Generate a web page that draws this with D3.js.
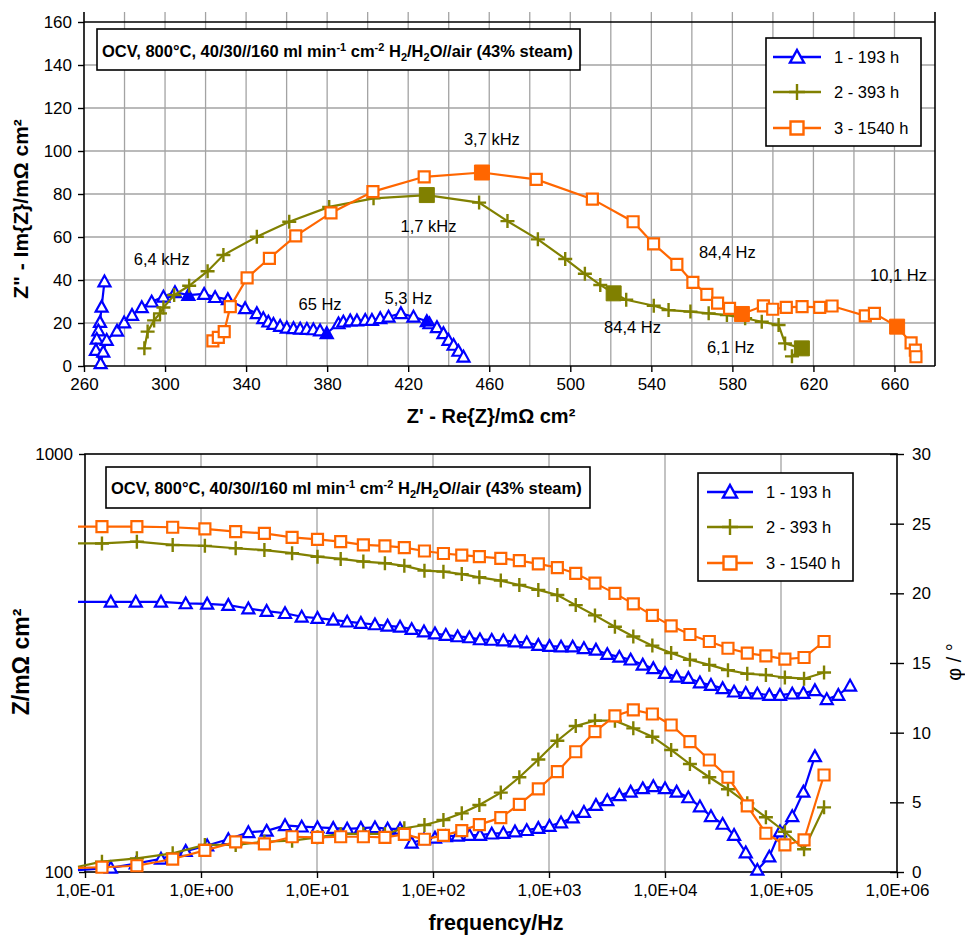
<!DOCTYPE html>
<html>
<head>
<meta charset="utf-8">
<script src="https://cdn.jsdelivr.net/npm/d3@7/dist/d3.min.js"></script>
<style>
  body { margin: 0; background: #fff; }
  svg { font-family: "Liberation Sans", Arial, Helvetica, sans-serif; }
</style>
</head>
<body>
<svg id="chart" width="965" height="935"></svg>
<script>
// series names, in legend order
const seriesNames = ["1 - 193 h", "2 - 393 h", "3 - 1540 h"];

// Nyquist data, [Z' , Z''] in mOhm cm2, high -> low frequency
const nyq1 = [[270.1,39.3],[268.7,27.5],[267.9,20.4],[267.1,16.5],[266.3,12.6],[265.9,7.4],[268.2,1.2],[269.5,6.6],
  [271.2,12.1],[276.3,16.4],[279.8,20.2],[283.7,23.7],[288.5,27.3],[293.4,29.9],[299.2,32.2],[304.9,34.3],
  [311.5,33.0],[319.3,33.5],[324.7,32.0],[331.0,31.0],[339.5,26.8],[345.3,24.5],[348.5,22.2],[351.0,20.6],
  [353.5,19.5],[356.8,18.6],[360.1,17.8],[363.4,17.5],[366.7,17.3],[370.0,17.2],[373.2,17.0],[376.5,16.5],
  [379.8,15.2],[385.6,19.8],[388.0,20.6],[391.4,21.1],[394.7,21.1],[398.8,21.4],[402.1,21.4],[406.2,22.2],
  [410.3,22.9],[416.4,24.5],[422.6,22.9],[429.2,20.8],[430.5,19.8],[434.2,18.0],[437.4,15.2],[439.9,12.1],
  [442.4,9.8],[444.8,7.0],[447.3,4.3]];
const nyq2 = [[289.8,8.2],[291.4,16.0],[294.6,21.2],[297.5,24.5],[299.2,27.2],[304.5,33.0],[311.9,37.3],[321.0,44.1],
  [328.8,51.6],[345.3,60.1],[361.3,67.1],[381.0,74.0],[402.9,78.0],[429.2,79.5],[455.0,76.0],[469.0,67.4],
  [484.0,58.9],[497.5,49.8],[507.2,42.9],[514.8,37.7],[521.4,33.8],[527.6,30.8],[541.2,28.0],[548.5,26.0],
  [559.3,25.3],[568.3,24.5],[577.3,23.7],[586.3,22.2],[594.5,20.6],[602.8,19.1],[606.0,10.5],[614.3,8.2],
  [609.4,4.5]];
const nyq3 = [[323.6,11.7],[326.3,13.3],[329.2,16.0],[332.2,27.6],[340.5,41.0],[351.5,50.1],[364.5,60.5],[381.9,71.2],
  [402.6,81.1],[427.9,88.0],[456.4,90.0],[483.2,86.8],[510.9,77.6],[531.0,67.1],[541.1,56.8],[552.6,47.3],
  [560.5,38.9],[567.4,33.3],[572.7,29.2],[578.6,26.8],[584.7,24.2],[595.3,28.0],[599.9,26.4],[606.6,27.3],
  [614.4,27.6],[623.1,27.3],[629.2,27.9],[645.6,23.3],[650.1,24.5],[661.3,18.3],[668.2,10.8],[670.3,7.4],
  [670.6,4.3]];
// indices of the points shown filled (labelled frequencies)
const nyqFilled = [[16, 32, 43], [13, 20, 31], [10, 20, 29]];
// frequency labels on the Nyquist plot, placed in data units
const nyqLabels = [
  { text: "6,4 kHz", re: 298.4, im: 49.8 },
  { text: "65 Hz", re: 376.5, im: 28.8 },
  { text: "5,3 Hz", re: 420.1, im: 31.5 },
  { text: "1,7 kHz", re: 430.0, im: 65.2 },
  { text: "3,7 kHz", re: 461.3, im: 105.6 },
  { text: "84,4 Hz", re: 577.5, im: 52.8 },
  { text: "84,4 Hz", re: 530.7, im: 17.9 },
  { text: "6,1 Hz", re: 579.2, im: 8.6 },
  { text: "10,1 Hz", re: 662.0, im: 42.0 }
];

// Bode data (first point lies just below 0.1 Hz, outside the axis)
const freq1 = [0.087,0.167,0.274,0.452,0.738,1.13,1.72,2.56,3.68,5.30,7.38,10.1,13.8,18.2,23.9,31.6,40.6,52.0,65.5,
  83.6,104,129,163,206,254,321,404,509,643,809,1010,1270,1600,2000,2540,3180,4040,5060,6430,7930,10000,
  12600,15900,20000,24900,31400,39400,49700,62500,79300,98000,125000,156000,196000,248000,312000,394000];
const absZ1 = [443,443,443,443,439,438,435,427,421,416,408,405,401,397,394,391,388,386,381,376,372,369,366,364,360,
  359,358,356,354,349,347,346,346,343,340,332,327,322,313,307,299,293,291,284,280,275,270,268,267,265,265,
  267,268,272,259,265,279];
const phase1 = [0.14,0.3,0.6,0.95,1.5,1.9,2.35,2.85,2.95,3.35,3.25,3.2,3.15,3.1,3.15,3.2,3.1,3.1,2.1,2.35,2.45,2.55,
  2.6,2.65,2.65,2.75,2.8,2.9,3.0,3.15,3.3,3.55,3.9,4.3,4.8,5.15,5.5,5.75,6.0,6.15,6.0,5.75,5.35,4.7,4.0,3.45,
  2.65,1.4,0.15,1.1,2.9,4.0,5.75,8.3,null,null,null];

const freq23 = [0.087,0.14,0.28,0.57,1.08,1.99,3.52,6.1,10.1,16.0,25.1,38.5,56.6,84.4,123,177,251,384,555,809,1180,
  1700,2490,3700,5330,7780,11300,16400,24100,34900,51200,74100,108000,158000,235000];
const absZ2 = [611,611,617,606,603,595,589,579,568,561,553,548,540,526,523,516,507,498,486,473,460,435,411,386,366,
  348,334,322,313,304,298,296,292,290,300];
const phase2 = [0.38,0.74,0.98,1.34,1.94,1.94,2.17,2.25,2.49,2.73,2.73,2.73,3.14,3.37,3.73,4.21,4.81,5.7,6.8,8.07,
  9.42,10.48,10.86,10.86,10.31,9.71,8.76,7.75,6.8,5.94,4.93,3.93,2.89,1.63,4.64];
const absZ3 = [670,670,670,668,662,652,646,632,625,617,606,603,597,586,578,573,568,563,556,546,535,518,491,464,438,
  411,388,370,356,343,334,329,323,326,356];
const phase3 = [0.29,0.34,0.45,0.93,1.55,2.16,2.02,2.53,2.49,2.53,2.53,2.49,2.7,2.35,2.63,2.97,3.4,3.9,4.86,5.96,7.2,
  8.63,10.07,11.2,11.63,11.34,10.55,9.35,8.04,6.8,4.74,2.78,1.94,2.3,6.96];

// axis ticks
const reTicks = d3.range(260, 681, 40);
const imTicks = d3.range(0, 161, 20);
const freqTicks = [0.1, 1, 10, 100, 1e3, 1e4, 1e5, 1e6];
const freqTickLabels = ["1,0E-01", "1,0E+00", "1,0E+01", "1,0E+02", "1,0E+03", "1,0E+04", "1,0E+05", "1,0E+06"];
const zTicks = [100, 1000];
const phTicks = [0, 5, 10, 15, 20, 25, 30];

// note text: [text, shift] shift 1 = superscript, -1 = subscript
const noteParts = [["OCV, 800°C, 40/30//160 ml min", 0], ["-1", 1], [" cm", 0], ["-2", 1], [" H", 0], ["2", -1],
  ["/H", 0], ["2", -1], ["O//air (43% steam)", 0]];

// styling
const colors = ["#0000ff", "#808000", "#ff6600"];
const shapes = ["tri", "plus", "square"];
const gridColor = "#a3a3a3";

const svg = d3.select("#chart");

function markerPath(type, s) {
  const h = s / 2;
  if (type === "tri") return `M0,${-h}L${h},${h * 0.8}L${-h},${h * 0.8}Z`;
  if (type === "square") return `M${-h},${-h}H${h}V${h}H${-h}Z`;
  return `M${-h},0H${h}M0,${-h}V${h}`;
}
function markerSize(type) {
  return type === "plus" ? 14 : (type === "tri" ? 12 : 11);
}
function drawMarkers(g, pts, i) {
  const type = shapes[i];
  g.append("g").selectAll("path").data(pts).join("path")
    .attr("transform", d => `translate(${d[0]},${d[1]})`)
    .attr("d", markerPath(type, markerSize(type)))
    .attr("fill", type === "plus" ? "none" : "#fff")
    .attr("stroke", colors[i]).attr("stroke-width", type === "plus" ? 2.4 : 2.2);
}
function drawLine(g, pts, i) {
  g.append("path").datum(pts)
    .attr("d", d3.line())
    .attr("fill", "none").attr("stroke", colors[i]).attr("stroke-width", 2.2);
}
function styleAxis(g) {
  g.attr("font-family", null).attr("font-size", null);
  g.select(".domain").remove();
  g.selectAll(".tick line").attr("stroke", "#000").attr("stroke-width", 1.4);
  g.selectAll(".tick text").attr("fill", "#000").style("font-size", "17px");
}
function noteBox(x, y, w, h, tx, ty) {
  svg.append("rect").attr("x", x).attr("y", y).attr("width", w).attr("height", h)
    .attr("fill", "#fff").attr("stroke", "#000").attr("stroke-width", 1.6);
  const t = svg.append("text").attr("x", tx).attr("y", ty)
    .attr("font-weight", "bold").style("font-size", "16.5px");
  let prev = 0;
  noteParts.forEach(([s, shift]) => {
    const off = shift === 1 ? -6 : (shift === -1 ? 4 : 0);
    t.append("tspan").attr("dy", off - prev)
      .style("font-size", shift ? "11px" : null).text(s);
    prev = off;
  });
}
function legend(x, y, w, h, lineX0, lineX1, textX, rows) {
  svg.append("rect").attr("x", x).attr("y", y).attr("width", w).attr("height", h)
    .attr("fill", "#fff").attr("stroke", "#000").attr("stroke-width", 1.6);
  seriesNames.forEach((name, i) => {
    const g = svg.append("g");
    g.append("line").attr("x1", lineX0).attr("x2", lineX1).attr("y1", rows[i]).attr("y2", rows[i])
      .attr("stroke", colors[i]).attr("stroke-width", 2.4);
    const type = shapes[i];
    g.append("path").attr("transform", `translate(${(lineX0 + lineX1) / 2},${rows[i]})`)
      .attr("d", markerPath(type, markerSize(type) + 2))
      .attr("fill", type === "plus" ? "none" : "#fff")
      .attr("stroke", colors[i]).attr("stroke-width", 2.4);
    g.append("text").attr("x", textX).attr("y", rows[i]).attr("dy", "0.35em")
      .style("font-size", "16.5px").text(name);
  });
}

// ================= Nyquist plot =================
const xN = d3.scaleLinear().domain([260, 680]).range([84, 935]);
const yN = d3.scaleLinear().domain([0, 160]).range([366, 22]);
const nTop = 12;

const gN = svg.append("g");
gN.append("g").selectAll("line").data(d3.range(280, 680, 20)).join("line")
  .attr("x1", d => xN(d)).attr("x2", d => xN(d)).attr("y1", nTop).attr("y2", yN(0))
  .attr("stroke", gridColor).attr("stroke-width", 1.3);
gN.append("g").selectAll("line").data(d3.range(20, 160, 20)).join("line")
  .attr("x1", xN(260)).attr("x2", xN(680)).attr("y1", d => yN(d)).attr("y2", d => yN(d))
  .attr("stroke", gridColor).attr("stroke-width", 1.3);
// frame
gN.append("line").attr("x1", xN(260)).attr("x2", xN(680)).attr("y1", yN(160)).attr("y2", yN(160))
  .attr("stroke", "#000").attr("stroke-width", 1.6);
gN.append("line").attr("x1", xN(680)).attr("x2", xN(680)).attr("y1", nTop).attr("y2", yN(0))
  .attr("stroke", "#000").attr("stroke-width", 1.6);
gN.append("line").attr("x1", xN(260)).attr("x2", xN(260)).attr("y1", nTop).attr("y2", yN(0))
  .attr("stroke", "#000").attr("stroke-width", 1.6);
gN.append("line").attr("x1", xN(260)).attr("x2", xN(680)).attr("y1", yN(0)).attr("y2", yN(0))
  .attr("stroke", "#000").attr("stroke-width", 1.6);

gN.append("g").attr("transform", `translate(${xN(260)},0)`)
  .call(d3.axisLeft(yN).tickValues(imTicks).tickSize(6).tickPadding(6))
  .call(styleAxis);
gN.append("g").attr("transform", `translate(0,${yN(0)})`)
  .call(d3.axisBottom(xN).tickValues(reTicks).tickSize(6).tickPadding(6))
  .call(styleAxis);

gN.append("text").attr("x", 491).attr("y", 423).attr("text-anchor", "middle")
  .attr("font-weight", "bold").style("font-size", "20px").text("Z' - Re{Z}/mΩ cm²");
gN.append("text").attr("transform", "translate(21,209) rotate(-90)").attr("dy", "0.35em")
  .attr("text-anchor", "middle").attr("font-weight", "bold").style("font-size", "21px")
  .text("Z\" - Im{Z}/mΩ cm²");

[nyq1, nyq2, nyq3].forEach((s, i) => {
  const pts = s.map(d => [xN(d[0]), yN(d[1])]);
  drawLine(gN, pts, i);
  drawMarkers(gN, pts, i);
  const type = shapes[i];
  const size = type === "tri" ? 12 : 15;
  const fp = nyqFilled[i].map(k => pts[k]);
  gN.append("g").selectAll("path").data(fp).join("path")
    .attr("transform", d => `translate(${d[0]},${d[1]})`)
    .attr("d", markerPath(type === "plus" ? "square" : type, size))
    .attr("fill", colors[i]).attr("stroke", colors[i]).attr("stroke-width", 1);
});

gN.append("g").selectAll("text").data(nyqLabels).join("text")
  .attr("x", d => xN(d.re)).attr("y", d => yN(d.im)).attr("dy", "0.35em")
  .attr("text-anchor", "middle").style("font-size", "16.5px").text(d => d.text);

noteBox(97, 29, 483, 41, 102, 57);
legend(766, 38, 155, 108, 773, 821, 834, [57, 92, 128]);

// ================= Bode plot =================
const xB = d3.scaleLog().domain([0.1, 1e6]).range([85, 897]);
const yZ = d3.scaleLog().domain([100, 1000]).range([872, 454]);
const yP = d3.scaleLinear().domain([0, 30]).range([872, 454]);

const gB = svg.append("g");
gB.append("g").selectAll("line").data(freqTicks.slice(1, -1)).join("line")
  .attr("x1", d => xB(d)).attr("x2", d => xB(d)).attr("y1", yZ(1000)).attr("y2", yZ(100))
  .attr("stroke", gridColor).attr("stroke-width", 1.3);
gB.append("rect").attr("x", xB(0.1)).attr("y", yZ(1000))
  .attr("width", xB(1e6) - xB(0.1)).attr("height", yZ(100) - yZ(1000))
  .attr("fill", "none").attr("stroke", "#000").attr("stroke-width", 1.6);

gB.append("g").attr("transform", `translate(${xB(0.1)},0)`)
  .call(d3.axisLeft(yZ).tickValues(zTicks).tickFormat(d3.format("d")).tickSize(6).tickPadding(6))
  .call(styleAxis);
gB.append("g").attr("transform", `translate(${xB(1e6)},0)`)
  .call(d3.axisRight(yP).tickValues(phTicks).tickSize(7).tickPadding(8))
  .call(styleAxis)
  .call(g => g.selectAll(".tick line").attr("x1", -7));
gB.append("g").attr("transform", `translate(0,${yZ(100)})`)
  .call(d3.axisBottom(xB).tickValues(freqTicks).tickFormat((d, i) => freqTickLabels[i]).tickSize(6).tickPadding(6))
  .call(styleAxis);

gB.append("text").attr("x", 496).attr("y", 930).attr("text-anchor", "middle")
  .attr("font-weight", "bold").style("font-size", "21.5px").text("frequency/Hz");
gB.append("text").attr("transform", "translate(21,662) rotate(-90)").attr("dy", "0.35em")
  .attr("text-anchor", "middle").attr("font-weight", "bold").style("font-size", "23px").text("Z/mΩ cm²");
gB.append("text").attr("transform", "translate(954,662) rotate(-90)").attr("dy", "0.35em")
  .attr("text-anchor", "middle").style("font-size", "20px").text("φ / °");

const bode = [
  { f: freq1, z: absZ1, p: phase1 },
  { f: freq23, z: absZ2, p: phase2 },
  { f: freq23, z: absZ3, p: phase3 }
];
// markers only for points inside the frequency axis
const inAxis = d => d.f >= 0.1;
bode.forEach((s, i) => {
  const rows = s.f.map((f, k) => ({ f, v: s.z[k] }));
  const pts = rows.map(d => [xB(d.f), yZ(d.v)]);
  drawLine(gB, pts, i);
  drawMarkers(gB, rows.filter(inAxis).map(d => [xB(d.f), yZ(d.v)]), i);
});
bode.forEach((s, i) => {
  const rows = s.f.map((f, k) => ({ f, v: s.p[k] })).filter(d => d.v !== null);
  drawLine(gB, rows.map(d => [xB(d.f), yP(d.v)]), i);
  drawMarkers(gB, rows.filter(inAxis).map(d => [xB(d.f), yP(d.v)]), i);
});

noteBox(106, 467, 484, 41, 111, 494);
legend(698, 473, 155, 108, 707, 753, 766, [492, 527, 563]);
</script>
</body>
</html>
